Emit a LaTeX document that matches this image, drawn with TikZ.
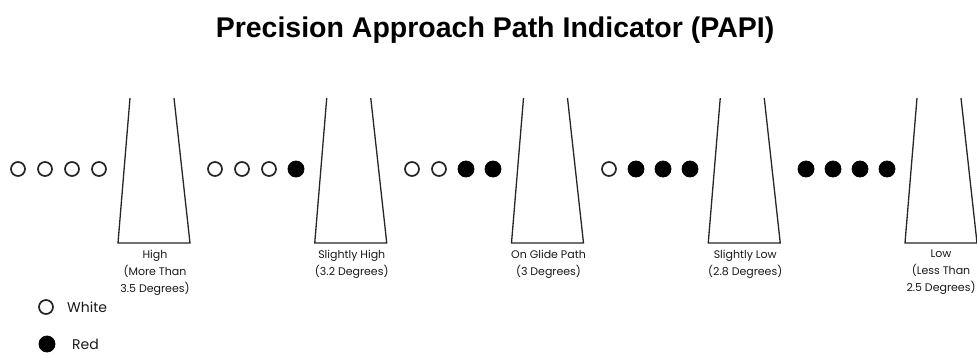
\documentclass[tikz,border=0pt]{standalone}
\usepackage{fontspec}
\setmainfont{Liberation Sans}
\newfontfamily\lblfont{Poppins}
\begin{document}
\begin{tikzpicture}[x=1pt,y=-1pt,
  trap/.style={draw=black!85, line width=1.3pt, line join=miter},
  wdot/.style={circle, draw=black!85, fill=white, line width=1.7pt, minimum size=14pt, inner sep=0pt},
  rdot/.style={circle, draw=black, fill=black, line width=0.8pt, minimum size=16pt, inner sep=0pt},
  lbl/.style={font=\lblfont\fontsize{11}{17}\selectfont, align=center, anchor=north, inner sep=0pt, text=black!90},
  leg/.style={font=\lblfont\fontsize{14}{16}\selectfont, anchor=west, inner sep=0pt, text=black!90},
  ttl/.style={font=\bfseries\fontsize{28.5}{30}\selectfont, anchor=base, inner sep=0pt}]
\useasboundingbox (0,0) rectangle (977,356);
\node[ttl] (title) at (495,37) {Precision Approach Path Indicator (PAPI)};
\foreach \i in {0,...,4}{
  \pgfmathsetmacro\xa{130+196.75*\i}
  \draw[trap] (\xa,98) -- (\xa-12,243) -- (\xa+60,243) -- (\xa+44,98);
  \foreach \j in {0,...,3}{
    \pgfmathsetmacro\xd{18+197*\i+27*\j}
    \pgfmathtruncatemacro\isred{\j+\i>=4 ? 1 : 0}
    \ifnum\isred=1
      \node[rdot] (d\i\j) at (\xd,169) {};
    \else
      \node[wdot] (d\i\j) at (\xd,169) {};
    \fi
  }
}
\node[lbl] (l1) at (155,250) {High\\(More Than\\3.5 Degrees)};
\node[lbl] (l2) at (351.75,250) {Slightly High\\(3.2 Degrees)};
\node[lbl] (l3) at (548.5,250) {On Glide Path\\(3 Degrees)};
\node[lbl] (l4) at (745.25,250) {Slightly Low\\(2.8 Degrees)};
\node[lbl] (l5) at (941,250) {Low\\(Less Than\\2.5 Degrees)};
\node[wdot] (lw) at (46,307) {};
\node[leg] (lwt) at (67,307) {White};
\node[rdot] (lr) at (47,344) {};
\node[leg] (lrt) at (72,344) {Red};
\end{tikzpicture}
\end{document}
